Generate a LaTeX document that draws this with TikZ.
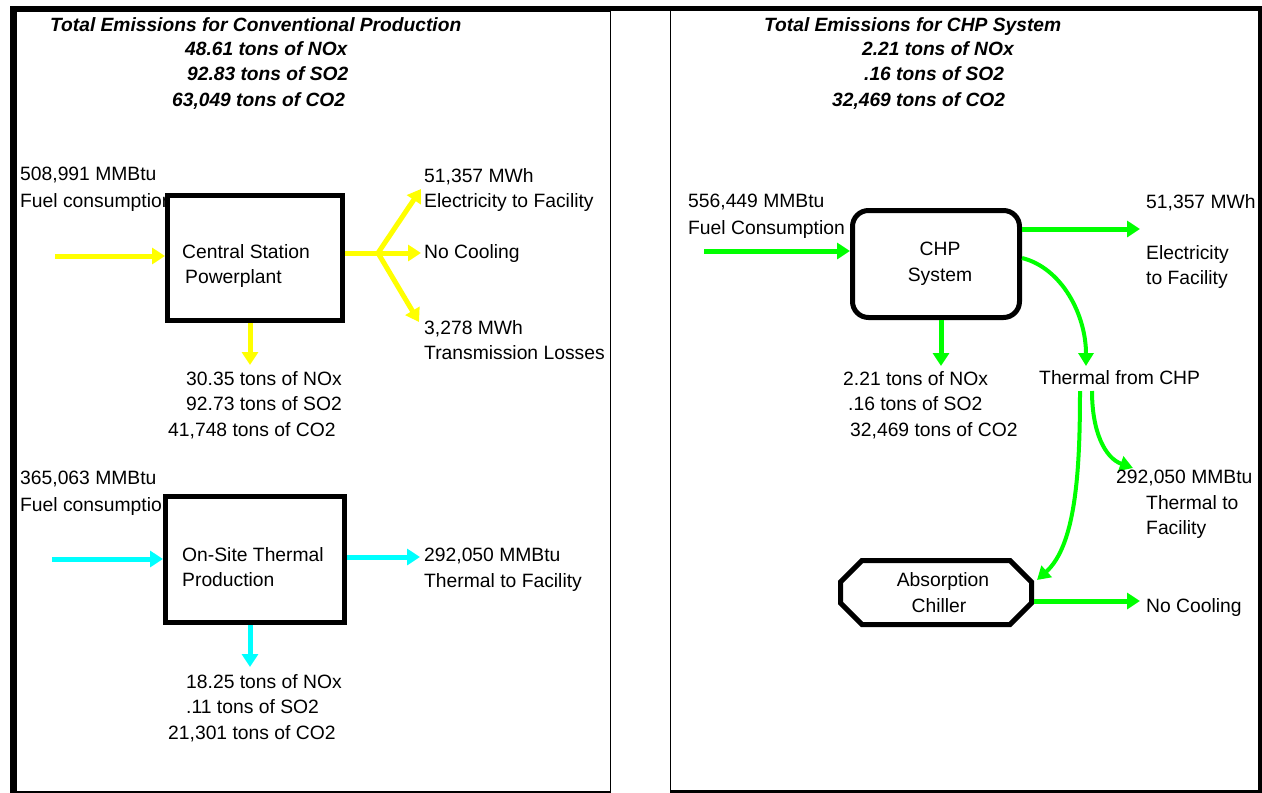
\documentclass[tikz,border=0pt]{standalone}
\usepackage{fontspec}
\setmainfont{Liberation Sans}
\usetikzlibrary{arrows.meta,shapes.misc}
\definecolor{yel}{RGB}{255,255,0}
\definecolor{cyn}{RGB}{0,255,255}
\definecolor{grn}{RGB}{0,255,0}
\begin{document}
\begin{tikzpicture}[x=1pt,y=-1pt,
  txt/.style={font=\fontsize{19.3}{25.5}\selectfont, inner sep=0pt, anchor=north west, align=left},
  ttl/.style={txt, font=\fontsize{19.2}{25.5}\selectfont\bfseries\itshape},
  flow/.style={line width=5pt, -{Triangle[length=13pt,width=16pt]}},
  flowc/.style={line width=4pt, -{Triangle[length=13pt,width=15pt]}},
  proc/.style={draw=black, line width=5pt, fill=white, align=center, inner sep=0pt,
    font=\fontsize{19.3}{25.5}\selectfont},
]
\useasboundingbox (0,0) rectangle (1262,793);
% frames
\fill (10,6) rectangle (1262,11);
\fill (10,6) rectangle (15,793);
\draw[line width=1.5pt] (15.75,11) rectangle (610.5,792);
\draw[line width=1.5pt] (670.5,11) -- (670.5,791);
\fill (1258,6) rectangle (1262,793);
\fill (669.75,790) rectangle (1262,793);

% ---------- left panel ----------
\node[ttl] (t1) at (50,17) {Total Emissions for Conventional Production};
\node[ttl] (t1v) at (172,41) {\hspace*{13pt}48.61 tons of NOx\\\hspace*{15pt}92.83 tons of SO2\\63,049 tons of CO2};

\node[txt] (f1) at (20,167) {508,991 MMBtu\\[1.5pt]Fuel consumption};
\node[proc, minimum width=175pt, minimum height=125pt] (cs) at (255,258) {};
\node[txt] (cst) at (182,244) {Central Station\\\hspace*{3pt}Powerplant};
\coordinate (a1) at (55,256);
\draw[flow,yel] (a1) -- (a1 -| cs.west);
\coordinate (br) at (378,253);
\draw[yel,line width=5pt] (cs.east |- br) -- (br);
\coordinate (e1) at (421,189);
\coordinate (e2) at (421,253);
\coordinate (e3) at (419,322);
\draw[flow,yel] (br) -- (e1);
\draw[flow,yel] (br) -- (e2);
\draw[flow,yel] (br) -- (e3);
\node[txt] (elec1) at (424,168) {51,357 MWh\\Electricity to Facility};
\node[txt] (nc1) at (424,244) {No Cooling};
\node[txt] (tl) at (424,320) {3,278 MWh\\Transmission Losses};
\coordinate (d1) at (250,365);
\draw[flow,yel] (cs.south -| d1) -- (d1);
\node[txt] (em1) at (168,371) {\hspace*{18pt}30.35 tons of NOx\\\hspace*{18pt}92.73 tons of SO2\\41,748 tons of CO2};

\node[txt] (f2) at (20,471) {365,063 MMBtu\\[1pt]Fuel consumption};
\node[proc, minimum width=179pt, minimum height=126pt] (ot) at (255,559.5) {};
\node[txt] (ott) at (182,547) {On-Site Thermal\\Production};
\coordinate (a2) at (52,559);
\draw[flow,cyn] (a2) -- (a2 -| ot.west);
\coordinate (a3) at (420,557);
\draw[flow,cyn] (ot.east |- a3) -- (a3);
\node[txt] (th1) at (424,548) {292,050 MMBtu\\Thermal to Facility};
\coordinate (d2) at (250,667);
\draw[flow,cyn] (ot.south -| d2) -- (d2);
\node[txt] (em2) at (168,674) {\hspace*{18pt}18.25 tons of NOx\\\hspace*{18pt}.11 tons of SO2\\21,301 tons of CO2};

% ---------- right panel ----------
\node[ttl] (t2) at (764,17) {Total Emissions for CHP System};
\node[ttl] (t2v) at (832,41) {\hspace*{30pt}2.21 tons of NOx\\\hspace*{32pt}.16 tons of SO2\\32,469 tons of CO2};
\node[txt] (f3) at (688,194) {556,449 MMBtu\\[1pt]Fuel Consumption};
\node[proc, rounded corners=16pt, minimum width=167pt, minimum height=107pt] (chp) at (936,264) {\hspace*{8pt}CHP\\\hspace*{8pt}System};
\coordinate (a4) at (704,251);
\draw[flow,grn] (a4) -- (a4 -| chp.west);
\coordinate (a5) at (1140,229);
\draw[flow,grn] (chp.east |- a5) -- (a5);
\node[txt] (elec2) at (1146,194) {51,357 MWh\\[25.5pt]Electricity\\to Facility};
\node[txt] (tfc) at (1039,370) {Thermal from CHP};
\coordinate (c1s) at (1022,258);
\coordinate (c1e) at (1086,366);
\draw[flowc,grn] (c1s) .. controls (1062,268) and (1086,315) .. (c1e);
\node[txt] (em3) at (843,371) {2.21 tons of NOx\\\hspace*{5pt}.16 tons of SO2\\\hspace*{7pt}32,469 tons of CO2};
\coordinate (d3) at (941,366);
\draw[flow,grn] (chp.south -| d3) -- (d3);
\node[proc, chamfered rectangle, chamfered rectangle xsep=18pt, minimum width=191pt, minimum height=64pt] (chil) at (936,592.5) {\hspace*{14pt}Absorption\\\hspace*{6pt}Chiller};
\coordinate (c2s) at (1080,391);
\coordinate (c2e) at (1037,580);
\draw[flowc,grn] (c2s) .. controls (1080,470) and (1076,545) .. (c2e);
\coordinate (c3s) at (1092,391);
\coordinate (c3e) at (1133,468);
\draw[flowc,grn] (c3s) .. controls (1092,432) and (1105,458) .. (c3e);
\node[txt] (th2) at (1116,470) {292,050 MMBtu\\\hspace*{30pt}Thermal to\\\hspace*{30pt}Facility};
\coordinate (a6) at (1140,601);
\draw[flow,grn] (chil.east |- a6) -- (a6);
\node[txt] (nc2) at (1146,598) {No Cooling};
\end{tikzpicture}
\end{document}
